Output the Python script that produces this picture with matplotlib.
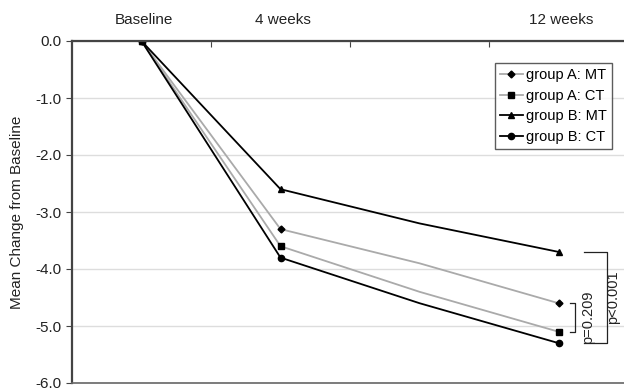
import matplotlib.pyplot as plt

plt.rcParams["font.family"] = ["Liberation Sans", "DejaVu Sans"]

# x categories (8 weeks has no label/marker in the original)
periods = ["Baseline", "4 weeks", "8 weeks", "12 weeks"]
top_labels = ["Baseline", "4 weeks", "", "12 weeks"]

a_mt = [0.0, -3.3, -3.9, -4.6]
a_ct = [0.0, -3.6, -4.4, -5.1]
b_mt = [0.0, -2.6, -3.2, -3.7]
b_ct = [0.0, -3.8, -4.6, -5.3]

y_ticks = [0, -1, -2, -3, -4, -5, -6]

fig = plt.figure(figsize=(6.24, 3.91), dpi=100)
ax = fig.add_axes([72 / 624, 1 - 383 / 391, 556 / 624, 342 / 391])

fs = 11
x = list(range(len(periods)))
gray = "#aaaaaa"
marks = [0, 1, 3]
ax.plot(x, a_mt, color=gray, lw=1.3, marker="D", ms=3.5, mfc="black", mec="black",
        markevery=marks, label="group A: MT")
ax.plot(x, a_ct, color=gray, lw=1.3, marker="s", ms=4.5, mfc="black", mec="black",
        markevery=marks, label="group A: CT")
ax.plot(x, b_mt, color="black", lw=1.3, marker="^", ms=4.5,
        markevery=marks, label="group B: MT")
ax.plot(x, b_ct, color="black", lw=1.3, marker="o", ms=4.5,
        markevery=marks, label="group B: CT")

ax.set_xlim(-0.5, 3.5)
ax.set_ylim(-6, 0)
ax.set_yticks(y_ticks)
ax.set_yticklabels(["%.1f" % v for v in y_ticks], fontsize=fs, color="#222222")
ax.yaxis.grid(True, color="#dddddd", lw=1)
ax.set_axisbelow(True)
ax.set_ylabel("Mean Change from Baseline", fontsize=fs, color="#222222", labelpad=8)

# category axis sits on the 0.0 line at the top
ax.set_xticks([0.5, 1.5, 2.5])
ax.set_xticklabels([])
ax.tick_params(axis="x", which="both", top=True, bottom=False, direction="in",
               length=4, color="#444444")
ax.tick_params(axis="y", direction="out", length=4, color="#444444")
for i, lab in enumerate(top_labels):
    ax.text(i + 0.02, 1.04, lab, transform=ax.get_xaxis_transform(),
            ha="center", va="bottom", fontsize=fs, color="#222222")

for s in ["top", "left"]:
    ax.spines[s].set_color("#444444")
    ax.spines[s].set_linewidth(1.6)
ax.spines["bottom"].set_color("#666666")
ax.spines["bottom"].set_linewidth(1.2)
ax.spines["right"].set_visible(False)

leg = ax.legend(loc="upper right", bbox_to_anchor=(0.971, 0.935), fontsize=10.5,
                frameon=True, fancybox=False, handlelength=1.6, handletextpad=0.2,
                borderpad=0.35, labelspacing=0.45, borderaxespad=0)
leg.get_frame().set_edgecolor("#333333")
leg.get_frame().set_linewidth(1.0)

# significance brackets at 12 weeks
def bracket(y1, y2, x0, x1, text, tx):
    ax.plot([x0, x1, x1, x0], [y1, y1, y2, y2], color="#222222", lw=0.9,
            clip_on=False)
    ax.text(tx, (y1 + y2) / 2, text, rotation=90, ha="center", va="center",
            fontsize=10.5, color="#222222")

bracket(a_mt[3], a_ct[3], 3.08, 3.12, "p=0.209", 3.21)
bracket(b_mt[3], b_ct[3], 3.18, 3.35, "p<0.001", 3.39)

fig.savefig("out.png", dpi=100)
